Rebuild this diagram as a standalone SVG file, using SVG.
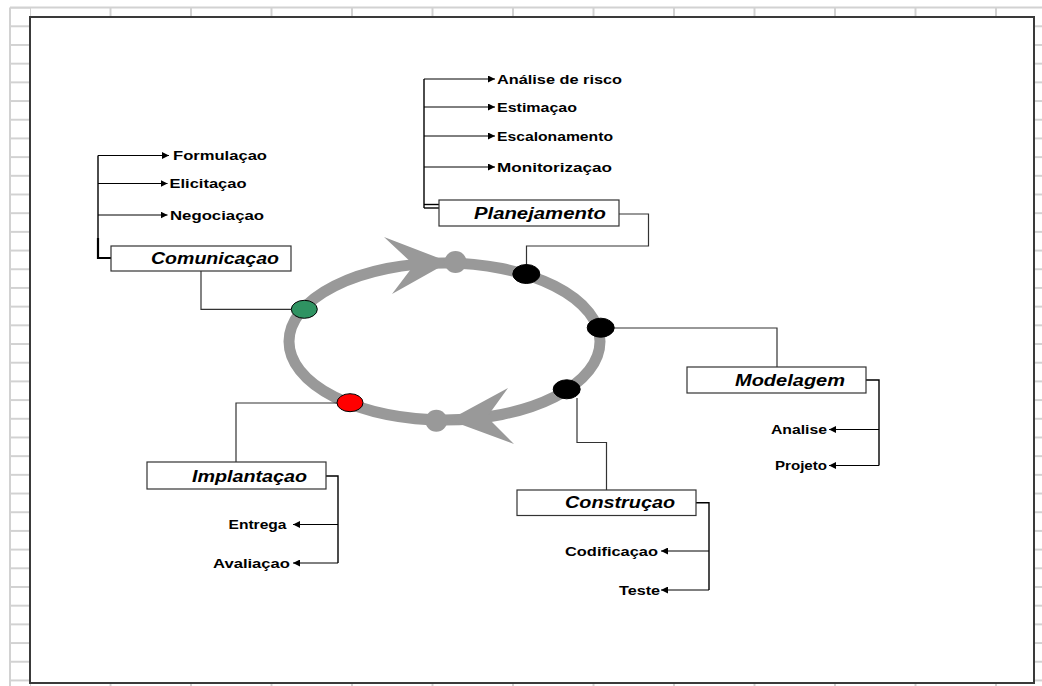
<svg xmlns="http://www.w3.org/2000/svg" width="1042" height="686" viewBox="0 0 1042 686">
  <style>
    .grid { stroke: #d2d2d2; stroke-width: 2; fill: none; }
    .frame { fill: #ffffff; stroke: #3a3a3a; stroke-width: 2; }
    .ring { fill: none; stroke: #999999; stroke-width: 11; }
    .head { fill: #999999; }
    .link { fill: none; stroke: #333333; stroke-width: 1.2; }
    .brace { fill: none; stroke: #000000; stroke-width: 1.4; }
    .brace-bold { fill: none; stroke: #000000; stroke-width: 2.2; }
    .arrow { fill: none; stroke: #000000; stroke-width: 1; marker-end: url(#tip); }
    .box { fill: #ffffff; stroke: #333333; stroke-width: 1.2; }
    .title { font-family: "Liberation Sans", Arial, sans-serif; font-weight: bold; font-style: italic; font-size: 16px; fill: #000000; }
    .item { font-family: "Liberation Sans", Arial, sans-serif; font-weight: bold; font-size: 12.5px; fill: #000000; }
  </style>
  <defs>
    <marker id="tip" markerUnits="userSpaceOnUse" markerWidth="8" markerHeight="7" refX="7" refY="3.5" orient="auto">
      <path d="M0,0 L7,3.5 L0,7 z" fill="#000000"/>
    </marker>
    <pattern id="rowTicks" patternUnits="userSpaceOnUse" x="0" y="25.3" width="1042" height="18.69">
      <line x1="0" y1="1" x2="1042" y2="1" stroke="#d2d2d2" stroke-width="2"/>
    </pattern>
    <pattern id="colTicks" patternUnits="userSpaceOnUse" x="29" y="0" width="80.5" height="686">
      <line x1="1" y1="0" x2="1" y2="686" stroke="#d2d2d2" stroke-width="2"/>
    </pattern>
  </defs>

  <!-- sheet grid around the drawing area -->
  <g id="sheet-grid">
    <rect x="0" y="0" width="1042" height="686" fill="#ffffff"/>
    <line class="grid" x1="10" y1="7.5" x2="1042" y2="7.5"/>
    <line class="grid" x1="10" y1="7.5" x2="10" y2="686"/>
    <rect x="10" y="8" width="20" height="678" fill="url(#rowTicks)"/>
    <rect x="1035" y="17" width="7" height="669" fill="url(#rowTicks)"/>
    <rect x="30" y="8" width="1012" height="9" fill="url(#colTicks)"/>
    <rect x="30" y="684" width="1012" height="2" fill="url(#colTicks)"/>
  </g>

  <!-- drawing frame -->
  <rect class="frame" x="30" y="17" width="1004" height="666"/>

  <!-- process cycle -->
  <g id="cycle">
    <ellipse class="ring" cx="444.5" cy="341.5" rx="155.5" ry="78.5"/>
    <polygon class="head" points="384,237 449,262 392,294 414,265"/>
    <polygon class="head" points="508,388 449,420 514,444 487,417"/>
    <circle cx="455.5" cy="262" r="11" fill="#999999"/>
    <circle cx="436.3" cy="420.8" r="11" fill="#999999"/>
  </g>

  <!-- connectors -->
  <g id="connectors">
    <!-- phase links from the cycle to each box -->
    <path class="link" d="M201,271 V309.3 H291"/>
    <path class="link" d="M619,214 H648.5 V246 H526.5 V265"/>
    <path class="link" d="M614,328 H777 V367"/>
    <path class="link" d="M577,398 V442.5 H606.5 V490"/>
    <path class="link" d="M337,403 H236 V462"/>

    <!-- Comunicaçao activities -->
    <path class="brace" d="M98,155.5 V240"/>
    <path class="brace-bold" d="M98,238 V258 H111"/>
    <line class="arrow" x1="98" y1="155.5" x2="169" y2="155.5"/>
    <line class="arrow" x1="98" y1="183.5" x2="167.5" y2="183.5"/>
    <line class="arrow" x1="98" y1="215" x2="167.5" y2="215"/>

    <!-- Planejamento activities -->
    <path class="brace" d="M424,79 V208"/>
    <line class="brace" x1="424" y1="204.5" x2="439" y2="204.5"/>
    <line class="brace" x1="424" y1="208" x2="439" y2="208"/>
    <line class="arrow" x1="424" y1="79" x2="495" y2="79"/>
    <line class="arrow" x1="424" y1="107" x2="495" y2="107"/>
    <line class="arrow" x1="424" y1="136" x2="495" y2="136"/>
    <line class="arrow" x1="424" y1="167" x2="495" y2="167"/>

    <!-- Modelagem activities -->
    <path class="brace" d="M866,380 H879 V465.5"/>
    <line class="arrow" x1="879" y1="429.5" x2="829" y2="429.5"/>
    <line class="arrow" x1="879" y1="465.5" x2="829" y2="465.5"/>

    <!-- Implantaçao activities -->
    <path class="brace" d="M326,476 H338 V563"/>
    <line class="arrow" x1="338" y1="524.5" x2="293" y2="524.5"/>
    <line class="arrow" x1="338" y1="563" x2="293" y2="563"/>

    <!-- Construçao activities -->
    <path class="brace" d="M696,502.7 H709 V590"/>
    <line class="arrow" x1="709" y1="551" x2="661" y2="551"/>
    <line class="arrow" x1="709" y1="590" x2="661" y2="590"/>
  </g>

  <!-- phase markers on the cycle -->
  <g id="markers" stroke="#000000" stroke-width="1">
    <ellipse cx="304.3" cy="309.3" rx="13" ry="9" fill="#2f9362"/>
    <ellipse cx="350" cy="402.7" rx="13" ry="9" fill="#ff0000"/>
    <ellipse cx="526.3" cy="274" rx="13.5" ry="9.5" fill="#000000"/>
    <ellipse cx="600.7" cy="327.7" rx="13.5" ry="9.5" fill="#000000"/>
    <ellipse cx="566.7" cy="389.3" rx="13.5" ry="9.5" fill="#000000"/>
  </g>

  <g id="comunicacao">
    <rect class="box" x="111" y="246" width="180" height="25"/>
    <text class="title" x="151" y="263.5" textLength="128" lengthAdjust="spacingAndGlyphs">Comunicaçao</text>
    <text class="item" x="173" y="160" textLength="94" lengthAdjust="spacingAndGlyphs">Formulaçao</text>
    <text class="item" x="169.5" y="188" textLength="77" lengthAdjust="spacingAndGlyphs">Elicitaçao</text>
    <text class="item" x="170" y="219.5" textLength="94" lengthAdjust="spacingAndGlyphs">Negociaçao</text>
  </g>

  <g id="planejamento">
    <rect class="box" x="439" y="200" width="180" height="26"/>
    <text class="title" x="474" y="219" textLength="132" lengthAdjust="spacingAndGlyphs">Planejamento</text>
    <text class="item" x="497" y="83.5" textLength="125" lengthAdjust="spacingAndGlyphs">Análise de risco</text>
    <text class="item" x="497" y="111.5" textLength="80" lengthAdjust="spacingAndGlyphs">Estimaçao</text>
    <text class="item" x="497" y="140.5" textLength="116" lengthAdjust="spacingAndGlyphs">Escalonamento</text>
    <text class="item" x="497" y="171.5" textLength="115" lengthAdjust="spacingAndGlyphs">Monitorizaçao</text>
  </g>

  <g id="modelagem">
    <rect class="box" x="687" y="367" width="179" height="26"/>
    <text class="title" x="735" y="386" textLength="110" lengthAdjust="spacingAndGlyphs">Modelagem</text>
    <text class="item" x="771" y="434" textLength="56" lengthAdjust="spacingAndGlyphs">Analise</text>
    <text class="item" x="775" y="470" textLength="52" lengthAdjust="spacingAndGlyphs">Projeto</text>
  </g>

  <g id="construcao">
    <rect class="box" x="517" y="490" width="179" height="25.5"/>
    <text class="title" x="565" y="508" textLength="110" lengthAdjust="spacingAndGlyphs">Construçao</text>
    <text class="item" x="565" y="555.5" textLength="93" lengthAdjust="spacingAndGlyphs">Codificaçao</text>
    <text class="item" x="619" y="594.5" textLength="41" lengthAdjust="spacingAndGlyphs">Teste</text>
  </g>

  <g id="implantacao">
    <rect class="box" x="147" y="462" width="179" height="27"/>
    <text class="title" x="192" y="481.5" textLength="115" lengthAdjust="spacingAndGlyphs">Implantaçao</text>
    <text class="item" x="228.5" y="529" textLength="58" lengthAdjust="spacingAndGlyphs">Entrega</text>
    <text class="item" x="213" y="567.5" textLength="77" lengthAdjust="spacingAndGlyphs">Avaliaçao</text>
  </g>
</svg>
